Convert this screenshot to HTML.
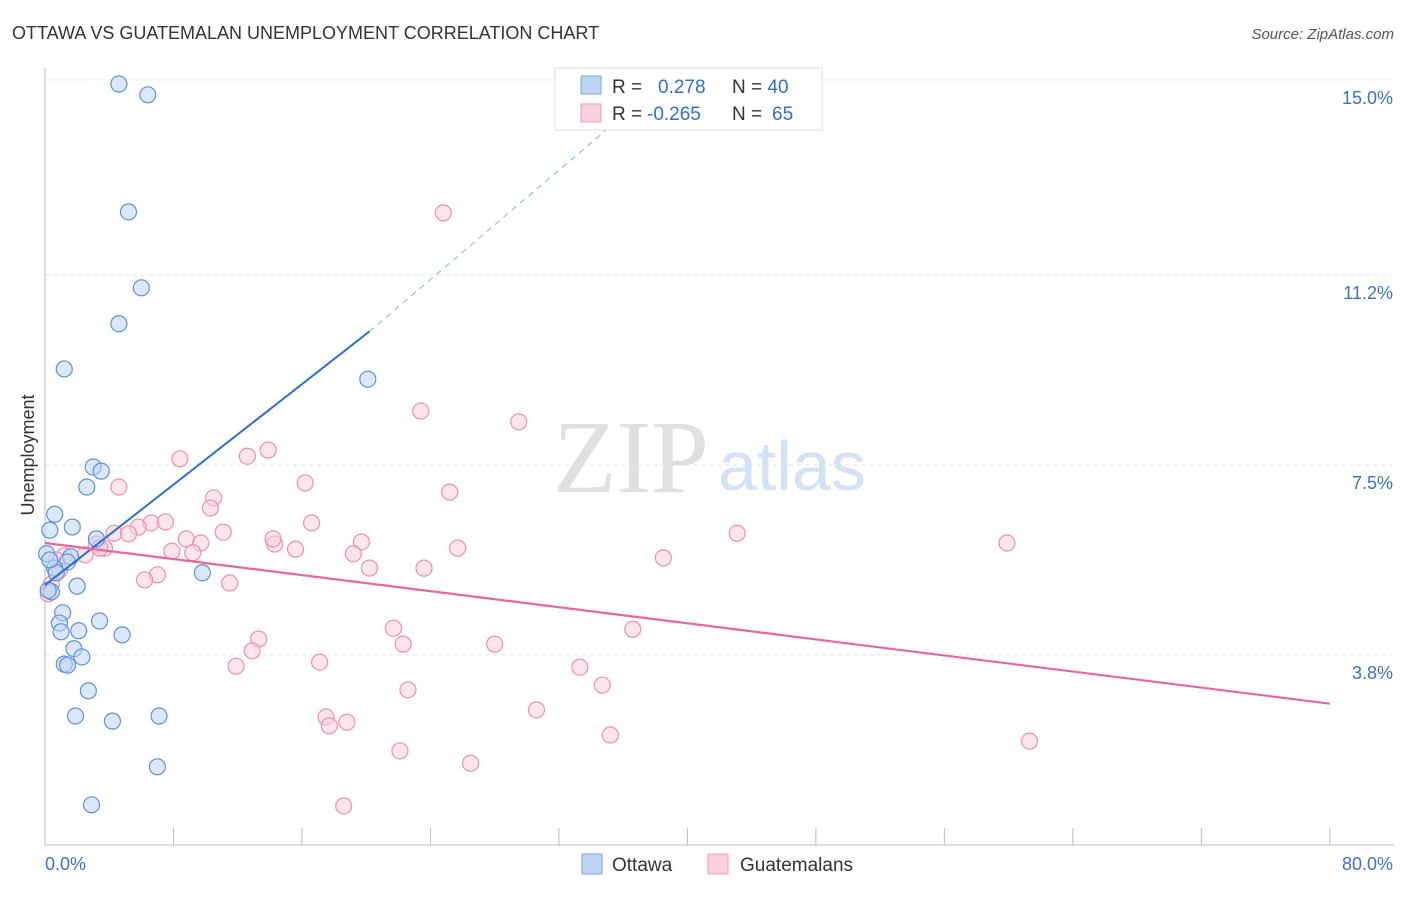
<!DOCTYPE html>
<html><head><meta charset="utf-8"><style>
body{margin:0;background:#fff;font-family:"Liberation Sans",sans-serif}
svg text{font-family:"Liberation Sans",sans-serif}
</style></head><body>
<svg id="c" width="1406" height="892" viewBox="0 0 1406 892" xmlns="http://www.w3.org/2000/svg">
<text x="12" y="39" font-size="18" fill="#333">OTTAWA VS GUATEMALAN UNEMPLOYMENT CORRELATION CHART</text>
<text x="1394" y="39" font-size="15" fill="#555" text-anchor="end" font-style="italic">Source: ZipAtlas.com</text>
<text x="553" y="492" font-size="104" fill="#e0e0e0" style="font-family:'Liberation Serif',serif">ZIP</text>
<text x="718" y="490" font-size="70" fill="#d3e2f4">atlas</text>
<text transform="translate(34,455) rotate(-90)" font-size="18" fill="#333" text-anchor="middle">Unemployment</text>
<g id="grid"></g><g id="marks"></g>
<g>
<rect x="555" y="68" width="267" height="62" fill="#fff" stroke="#ddd"/>
<rect x="581" y="76" width="20" height="18" fill="#bcd5f5" stroke="#7aa7e0"/>
<rect x="581" y="104" width="20" height="18" fill="#fbcfdc" stroke="#f09ab4"/>
<text x="612" y="93" font-size="19" fill="#333">R = <tspan fill="#2f6fd0" x="658">0.278</tspan><tspan fill="#333" x="732">N = </tspan><tspan fill="#2f6fd0">40</tspan></text>
<text x="612" y="120" font-size="19" fill="#333">R = <tspan fill="#2f6fd0" x="647">-0.265</tspan><tspan fill="#333" x="732">N = </tspan><tspan fill="#2f6fd0" x="772">65</tspan></text>
</g>
<g>
<rect x="582" y="854" width="20" height="20" fill="#bcd5f5" stroke="#7aa7e0"/>
<text x="612" y="871" font-size="19" fill="#333">Ottawa</text>
<rect x="708" y="854" width="20" height="20" fill="#fbcfdc" stroke="#f09ab4"/>
<text x="740" y="871" font-size="19" fill="#333">Guatemalans</text>
</g>
</svg>
<script>
const yTicks=[3.8,7.5,11.2,15.0];
const yTickLabels=["3.8%","7.5%","11.2%","15.0%"];
const xLabels=["0.0%","80.0%"];
const ottawaX=[4.6,6.4,5.2,6.0,4.6,1.2,20.1,3.0,3.5,2.6,0.6,1.7,0.3,3.2,0.1,1.6,1.4,0.6,0.7,9.8,2.0,0.4,0.2,1.1,3.4,0.9,2.1,1.0,4.8,1.8,2.3,1.2,1.4,2.7,1.9,4.2,7.1,7.0,2.9,0.3];
const ottawaY=[14.92,14.71,12.43,10.95,10.25,9.37,9.17,7.46,7.38,7.07,6.54,6.29,6.23,6.06,5.77,5.71,5.61,5.49,5.40,5.40,5.14,5.03,5.06,4.62,4.46,4.42,4.27,4.25,4.19,3.92,3.76,3.62,3.60,3.10,2.61,2.51,2.61,1.62,0.88,5.65];
const guatX=[24.8,23.4,29.5,8.4,12.6,13.9,4.6,16.2,25.2,10.5,10.3,16.6,6.6,7.5,5.8,11.1,4.3,5.2,43.1,59.9,8.8,14.3,9.7,19.7,3.2,3.7,3.4,14.2,25.7,7.9,15.6,19.2,9.2,2.5,1.2,38.5,0.9,20.2,23.6,7.0,6.2,11.5,0.4,0.2,21.7,36.6,13.3,22.3,28.0,12.9,11.9,17.1,33.3,34.7,22.6,30.6,17.5,18.8,17.7,35.2,61.3,22.1,26.5,18.6,0.7];
const guatY=[12.41,8.55,8.34,7.62,7.67,7.79,7.07,7.15,6.97,6.86,6.66,6.37,6.37,6.39,6.29,6.19,6.17,6.16,6.17,5.98,6.06,5.96,5.98,6.0,5.96,5.88,5.88,6.06,5.88,5.82,5.86,5.77,5.79,5.75,5.73,5.69,5.45,5.49,5.49,5.36,5.26,5.2,5.18,4.99,4.32,4.30,4.11,4.01,4.01,3.88,3.58,3.66,3.56,3.21,3.12,2.73,2.59,2.49,2.42,2.24,2.12,1.93,1.69,0.86,5.65];
const ottawaLine=[0,5.16,20.2,10.1,37.1,14.6];
const guatLine=[0,5.98,80,2.85];
const X=v=>45+v*16.06, Y=v=>850-v*51.34;
const NS="http://www.w3.org/2000/svg";
function mk(p,t,a){const e=document.createElementNS(NS,t);for(const k in a)e.setAttribute(k,a[k]);p.appendChild(e);return e;}
const g=document.getElementById('grid'), m=document.getElementById('marks');
yTicks.forEach((t,i)=>{
 const l=mk(g,'line',{x1:45,x2:1394,y1:Y(t),y2:Y(t),stroke:'#e2e2e2','stroke-dasharray':'4,4'});
 
 
 const tx=mk(g,'text',{x:1393,y:Y(t)+24,'font-size':18,fill:'#3a72c8','text-anchor':'end'});
 tx.textContent=yTickLabels[i];
 
 
});
const ax=mk(g,'line',{x1:45,x2:45,y1:68,y2:845,stroke:'#bbb'});


const bx=mk(g,'line',{x1:45,x2:1394,y1:845,y2:845,stroke:'#bbb'});


for(let i=1;i<=10;i++){const t=mk(g,'line',{x1:X(i*8),x2:X(i*8),y1:828,y2:845,stroke:'#bbb'});
 
 }
xLabels.forEach((s,i)=>{const t=mk(g,'text',{x:i?1393:45,y:870,'font-size':18,fill:'#3a72c8','text-anchor':i?'end':'start'});t.textContent=s;
 
 });
function dots(xs,ys,f,s,name){xs.forEach((x,i)=>{const c=mk(m,'circle',{cx:X(x),cy:Y(ys[i]),r:8,fill:f,'fill-opacity':0.55,stroke:s,'stroke-width':1.2});
 
 });}
dots(guatX,guatY,'#fbd0dd','#ee8fae','guatemalans-point');
dots(ottawaX,ottawaY,'#bcd5f5','#5d92d8','ottawa-point');
const o=ottawaLine;
const l1=mk(m,'line',{x1:X(o[0]),y1:Y(o[1]),x2:X(o[2]),y2:Y(o[3]),stroke:'#2b6fd6','stroke-width':2});


const l2=mk(m,'line',{x1:X(o[2]),y1:Y(o[3]),x2:X(o[4]),y2:Y(o[5]),stroke:'#8ab0e6','stroke-width':1,'stroke-dasharray':'6,5'});


const gl=guatLine;
const l3=mk(m,'line',{x1:X(gl[0]),y1:Y(gl[1]),x2:X(gl[2]),y2:Y(gl[3]),stroke:'#e8679a','stroke-width':2.2});


</script>
</body></html>
